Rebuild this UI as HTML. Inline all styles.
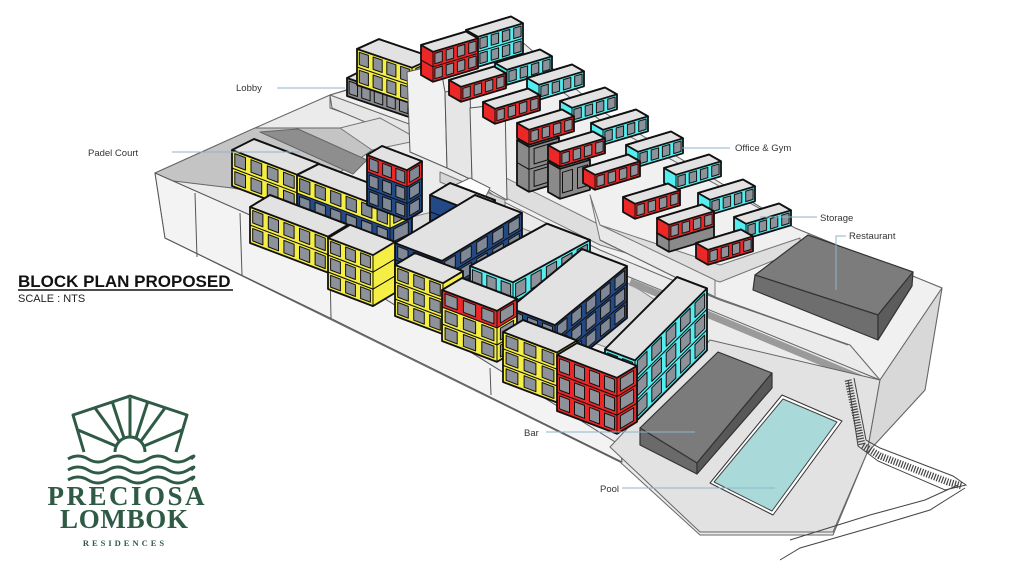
<!DOCTYPE html>
<html><head><meta charset="utf-8"><style>
html,body{margin:0;padding:0;background:#fff;}
#w{position:relative;width:1024px;height:576px;overflow:hidden;background:#fff;}
svg{position:absolute;left:0;top:0;}
.lbl{font-family:"Liberation Sans",sans-serif;font-size:9.5px;fill:#333;}
</style></head><body><div id="w">
<svg id="s" width="1024" height="576" viewBox="0 0 1024 576">
<g id="g"></g>
<g stroke="#8fb6c9" stroke-width="1" fill="none">
<line x1="277" y1="88" x2="345" y2="88"/>
<line x1="172" y1="152" x2="300" y2="152"/>
<line x1="682" y1="148" x2="730" y2="148"/>
<line x1="760" y1="217" x2="817" y2="217"/>
<polyline points="846,236 836,236 836,290"/>
<line x1="546" y1="432" x2="695" y2="432"/>
<line x1="622" y1="488" x2="775" y2="488"/>
</g>
<text class="lbl" x="236" y="91">Lobby</text>
<text class="lbl" x="88" y="156">Padel Court</text>
<text class="lbl" x="735" y="151">Office &amp; Gym</text>
<text class="lbl" x="820" y="221">Storage</text>
<text class="lbl" x="849" y="239">Restaurant</text>
<text class="lbl" x="524" y="436">Bar</text>
<text class="lbl" x="600" y="492">Pool</text>
<text x="18" y="287" font-family="Liberation Sans,sans-serif" font-weight="bold" font-size="17" fill="#111">BLOCK PLAN PROPOSED</text>
<line x1="18" y1="290" x2="233" y2="290" stroke="#111" stroke-width="1.5"/>
<text x="18" y="302" font-family="Liberation Sans,sans-serif" font-size="11" fill="#222">SCALE : NTS</text>
<g stroke="#2f5b46" stroke-width="3" fill="none" stroke-linejoin="round">
<polyline points="84,452 73,415 130,396 187,415 176,452"/>
<path d="M115,452 A15,15 0 0 1 145,452"/>
<line x1="130" y1="437" x2="130" y2="398"/>
<line x1="124" y1="438" x2="112" y2="401"/>
<line x1="136" y1="438" x2="148" y2="401"/>
<line x1="119" y1="441" x2="95" y2="408"/>
<line x1="141" y1="441" x2="165" y2="408"/>
<line x1="116" y1="446" x2="78" y2="430"/>
<line x1="144" y1="446" x2="182" y2="430"/>
<path d="M68,459 q10,-6 20,0 t20,0 t20,0 t20,0 t20,0 t20,0 t3,0"/>
<path d="M68,470 q10,-6 20,0 t20,0 t20,0 t20,0 t20,0 t20,0 t3,0"/>
<path d="M68,480 q10,-6 20,0 t20,0 t20,0 t20,0 t20,0 t20,0 t3,0"/>
</g>
<text x="126" y="505" text-anchor="middle" font-family="Liberation Serif,serif" font-weight="bold" font-size="27" fill="#2f5b46" textLength="157">PRECIOSA</text>
<text x="124" y="528" text-anchor="middle" font-family="Liberation Serif,serif" font-weight="bold" font-size="27" fill="#2f5b46" textLength="128">LOMBOK</text>
<text x="125" y="546" text-anchor="middle" font-family="Liberation Serif,serif" font-weight="bold" font-size="8.5" fill="#2f5b46" letter-spacing="3">RESIDENCES</text>
</svg>
<script>
var S=[];
function f(n){return n.toFixed(1);}
function poly(p,fill,st,sw){S.push('<polygon points="'+p.map(function(q){return f(q[0])+','+f(q[1]);}).join(' ')+'" fill="'+fill+'" stroke="'+(st||'#111')+'" stroke-width="'+(sw===undefined?1.2:sw)+'" stroke-linejoin="round"/>');}
function line(a,b,st,sw,extra){S.push('<line x1="'+a[0]+'" y1="'+a[1]+'" x2="'+b[0]+'" y2="'+b[1]+'" stroke="'+st+'" stroke-width="'+sw+'" '+(extra||'')+'/>');}
var Y='#f4ee45',R='#ec2727',C='#55eef0',N='#234a87',G='#8a8a8a';
function box(o){
 var x=o.x,y=o.y,L=o.L,D=o.D,H=o.H,su=o.su===undefined?0.38:o.su,sv=o.sv===undefined?-0.6:o.sv,c=o.c,fl=o.f||1;
 var A=[x,y],B=[x+L,y+su*L],Cc=[B[0]+D,B[1]+sv*D],Dd=[x+D,y+sv*D];
 function up(p,h){return [p[0],p[1]-h];}
 function fc(i){return Array.isArray(c)?c[i]:c;}
 var h=H/fl;
 var wf=o.wf===undefined?Math.max(0,Math.round(L/16)):o.wf;
 var ws=o.ws===undefined?Math.max(0,Math.round(D/16)):o.ws;
 var wfill=o.wfill||'#8d9199';
 for(var i=0;i<fl;i++){
  poly([up(A,i*h),up(B,i*h),up(B,(i+1)*h),up(A,(i+1)*h)],fc(i),'#111',1);
  poly([up(B,i*h),up(Cc,i*h),up(Cc,(i+1)*h),up(B,(i+1)*h)],o.sc?o.sc:fc(i),'#111',1);
  if(!o.nowin){
  var faces=[[A,[L,su*L],wf],[B,[D,sv*D],ws]];
  for(var k=0;k<2;k++){
   var O=faces[k][0],E=faces[k][1],n=faces[k][2];
   for(var j=0;j<n;j++){
    var s0=(j+0.17)/n,s1=(j+0.83)/n,t0=i*h+0.17*h,t1=(i+1)*h-0.14*h;
    var p0=[O[0]+E[0]*s0,O[1]+E[1]*s0],p1=[O[0]+E[0]*s1,O[1]+E[1]*s1];
    poly([up(p0,t0),up(p1,t0),up(p1,t1),up(p0,t1)],wfill,'#111',1);
   }
  }}
 }
 poly([up(A,H),up(B,H),up(Cc,H),up(Dd,H)],o.top||'#e2e2e2','#111',o.tw||1.8);
 poly([A,B,Cc,up(Cc,H),up(Dd,H),up(A,H)],'none','#111',o.tw||1.8);
}
poly([[155,173],[255,128],[330,95],[410,70],[470,48],[520,40],[600,110],[795,228],[942,288],[925,390],[867,453],[833,535],[700,535],[620,462],[165,238]],'#ebebeb','#666',1);
poly([[330,95],[410,72],[520,60],[600,120],[795,228],[942,288],[880,380],[850,345],[720,300],[600,250],[500,200],[420,140],[330,108]],'#f0f0f0','#666',1);
poly([[330,95],[420,128],[420,145],[332,108]],'#e6e6e6','#666',1);
poly([[500,175],[600,225],[720,265],[800,238],[800,250],[720,282],[600,245],[500,195]],'#dedede','#777',1);
poly([[590,195],[600,240],[715,297],[715,280],[600,225]],'#e9e9e9','#777',1);
line([600,240],[715,297],'#666',1);
line([715,297],[848,345],'#666',1);
line([600,265],[880,380],'#666',1);
poly([[155,173],[255,128],[340,128],[375,148],[300,200],[232,188],[165,180]],'#c4c4c4','#666',1);
poly([[260,132],[298,129],[367,160],[353,174]],'#8e8e8e','#666',1);
poly([[340,128],[380,118],[420,140],[372,150]],'#e2e2e2','#777',1);
poly([[380,225],[460,205],[540,235],[640,290],[700,330],[640,360],[560,330],[480,290]],'#dcdcdc','#888',1);
poly([[155,173],[250,215],[620,445],[622,462],[330,318],[165,238]],'#f3f3f3','#555',1);
line([195,193],[197,257],'#555',1);line([240,213],[242,275],'#555',1);line([330,270],[331,318],'#555',1);line([490,368],[491,395],'#555',1);
box({x:347,y:96,L:63,D:10,H:18,su:0.34,sv:-0.5,c:'#8b8b8b',wf:5,ws:0});
box({x:357,y:85,L:55,D:22,H:36,f:2,su:0.34,sv:-0.45,c:Y,wf:4,ws:1});
poly([[407,72],[440,64],[445,92],[447,168],[410,152]],'#f1f1f1','#555',1);
poly([[445,92],[470,88],[472,180],[447,168]],'#e6e6e6','#555',1);
poly([[470,108],[505,104],[507,200],[472,180]],'#efefef','#555',1);
poly([[440,172],[505,200],[505,210],[440,182]],'#d6d6d6','#777',1);
poly([[455,185],[470,178],[490,188],[485,198],[460,195]],'#ffffff','#666',1);
function um(x,y,c,fl){box({x:x,y:y,L:12,D:45,H:15*(fl||1),f:fl||1,su:0.57,sv:-0.3,c:c,wf:0,ws:4});}
um(466,60,C,2);um(421,75,R,2);
um(495,78,C);um(449,95,R);
um(527,93,C);um(483,117,R);
um(560,116,C);
box({x:517,y:185,L:12,D:30,H:45,su:0.57,sv:-0.3,c:'#8a8a8a',f:2,wf:0,ws:1,wfill:'#8a8a8a'});
um(517,138,R);
um(591,138,C);
box({x:548,y:192,L:12,D:30,H:30,su:0.57,sv:-0.3,c:'#8a8a8a',wf:0,ws:2,wfill:'#8a8a8a'});
um(548,160,R);
um(626,160,C);um(583,183,R);
um(664,183,C);um(623,212,R);
um(698,208,C);
box({x:657,y:245,L:12,D:45,H:12,su:0.57,sv:-0.3,c:'#8a8a8a',nowin:1});
um(657,233,R);
um(734,232,C);um(696,258,R);
poly([[755,275],[808,235],[913,272],[878,315]],'#7c7c7c','#333',1.2);
poly([[755,275],[878,315],[878,340],[753,290]],'#6e6e6e','#333',1.2);
poly([[878,315],[913,272],[912,286],[878,340]],'#5c5c5c','#333',1.2);
line([630,282],[860,378],'#9a9a9a',7);
poly([[610,447],[710,340],[880,380],[867,453],[833,532],[700,532]],'#e2e2e2','#666',1);
poly([[880,380],[942,288],[925,390],[867,453]],'#d8d8d8','#666',1);
box({x:232,y:186,L:65,D:22,H:36,f:2,c:Y,sv:-0.5});
box({x:297,y:211,L:93,D:22,H:36,f:2,c:[N,Y],sv:-0.5,wfill:'#7f8894'});
box({x:367,y:205,L:40,D:15,H:50,f:3,c:[N,N,R],ws:1,wfill:'#7f8894',wf:3});
box({x:430,y:245,L:45,D:20,H:50,f:3,c:N,nowin:1});
box({x:395,y:293,L:47,D:80,H:50,f:3,c:N,sv:-0.6,wfill:'#7f8894'});
box({x:470,y:306,L:43,D:77,H:40,f:2,c:C,sv:-0.55});
box({x:510,y:360,L:45,D:72,H:52,f:3,c:N,sv:-0.82,wfill:'#7f8894'});
box({x:605,y:411,L:30,D:72,H:62,f:3,c:C,sv:-1.0});
box({x:250,y:243,L:78,D:20,H:36,f:2,c:Y});
box({x:328,y:289,L:45,D:22,H:51,f:3,c:Y,ws:0});
box({x:395,y:316,L:48,D:20,H:51,f:3,c:Y,ws:0});
box({x:442,y:341,L:55,D:20,H:51,f:3,c:[Y,Y,R],ws:1});
box({x:503,y:382,L:54,D:20,H:50,f:3,c:Y,ws:0});
box({x:557,y:411,L:60,D:20,H:56,f:3,c:R,ws:1});
poly([[640,428],[718,352],[772,373],[697,463]],'#7b7b7b','#333',1.2);
poly([[640,428],[697,463],[697,474],[640,445]],'#6a6a6a','#333',1.2);
poly([[697,463],[772,373],[772,388],[697,474]],'#585858','#333',1.2);
poly([[710,483],[782,395],[842,421],[773,515]],'#ffffff','#333',1);
poly([[714,482],[783,399],[837,422],[772,511]],'#a9d9d9','#444',1);
S.push('<polyline points="848,380 862,445 880,456 948,482 962,486" fill="none" stroke="#444" stroke-width="7" stroke-dasharray="1.2 1.5"/>');
S.push('<polyline points="848,380 858,446 878,461 945,490 966,485 953,476 880,448 866,440 854,378" fill="none" stroke="#444" stroke-width="1"/>');
S.push('<polyline points="965,488 930,510 880,525 800,548 780,560" fill="none" stroke="#444" stroke-width="1"/>');
S.push('<polyline points="958,485 925,500 870,515 790,540" fill="none" stroke="#444" stroke-width="1"/>');
document.getElementById('g').innerHTML=S.join('');
</script>
</div></body></html>
